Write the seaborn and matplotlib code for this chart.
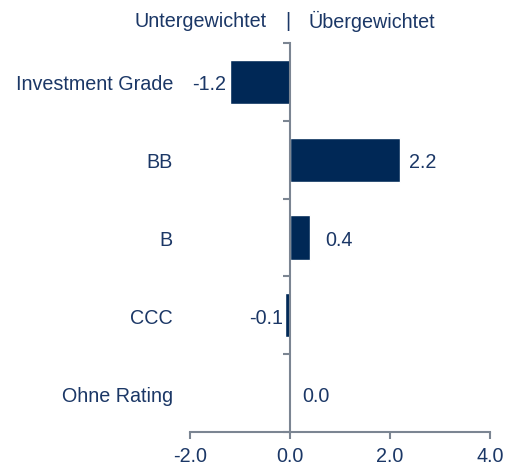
import matplotlib
matplotlib.use("Agg")
import matplotlib.pyplot as plt
import matplotlib.transforms as mtransforms
import pandas as pd
import seaborn as sns

# --- Data ---
categories = ["Investment Grade", "BB", "B", "CCC", "Ohne Rating"]
values = [-1.2, 2.2, 0.4, -0.1, 0.0]
value_labels = ["-1.2", "2.2", "0.4", "-0.1", "0.0"]
x_ticks = [-2, 0, 2, 4]
x_tick_labels = ["-2.0", "0.0", "2.0", "4.0"]
header_left = "Untergewichtet"
header_right = "Übergewichtet"

# --- Style ---
sns.set_theme(style="white")
plt.rcParams["font.family"] = ["Liberation Sans", "DejaVu Sans"]
navy = "#002856"
text_col = "#1b3766"
spine_col = "#7b8592"
fs = 14.2

df = pd.DataFrame({"category": categories, "value": values})

fig = plt.figure(figsize=(5.05, 4.67), dpi=100)
ax = fig.add_axes([190 / 505, 35 / 467, 300 / 505, 389 / 467])

sns.barplot(data=df, x="value", y="category", orient="h", color=navy,
            width=0.57, saturation=1, ax=ax)

ax.set_xlim(-2, 4)
ax.set_ylim(4.5, -0.5)
ax.set_xlabel("")
ax.set_ylabel("")

# spines
for s in ["top", "right"]:
    ax.spines[s].set_visible(False)
ax.spines["left"].set_position(("data", 0))
for s in ["left", "bottom"]:
    ax.spines[s].set_color(spine_col)
    ax.spines[s].set_linewidth(1.5)

# x ticks
ax.set_xticks(x_ticks)
ax.set_xticklabels(x_tick_labels)
ax.tick_params(axis="x", direction="out", length=5, width=1.5, color=spine_col,
               labelcolor=text_col, labelsize=fs, pad=6, bottom=True)

# y ticks: hide majors, minor ticks at category boundaries
ax.set_yticks(range(len(categories)))
ax.set_yticklabels([])
ax.tick_params(axis="y", which="major", length=0)
ax.set_yticks([i - 0.5 for i in range(len(categories) + 1)], minor=True)
ax.tick_params(axis="y", which="minor", direction="out", length=5, width=1.5,
               color=spine_col, left=True)

# category labels on the far left
for i, cat in enumerate(categories):
    ax.annotate(cat, xy=(-0.057, i), xycoords=("axes fraction", "data"),
                xytext=(0, -3), textcoords="offset pixels",
                ha="right", va="center", fontsize=fs, color=text_col)

# value labels
offsets = [-4, 9, 15, -2, 12]
for i, (v, lab) in enumerate(zip(values, value_labels)):
    ax.annotate(lab, xy=(v, i), xytext=(offsets[i], -3), textcoords="offset pixels",
                ha="left" if offsets[i] > 0 else "right", va="center",
                fontsize=fs, color=text_col)

# header
trans_x = mtransforms.blended_transform_factory(ax.transData, ax.transAxes)
hy = (432 - 21) / 389
ax.text(-0.46, hy, header_left, transform=trans_x, ha="right", va="center",
        fontsize=fs, color=text_col)
ax.text(-0.04, hy, "|", transform=trans_x, ha="center", va="center",
        fontsize=fs, color=text_col)
ax.text(0.36, hy, header_right, transform=trans_x, ha="left", va="center",
        fontsize=fs, color=text_col)

fig.savefig("out.png", dpi=100)
